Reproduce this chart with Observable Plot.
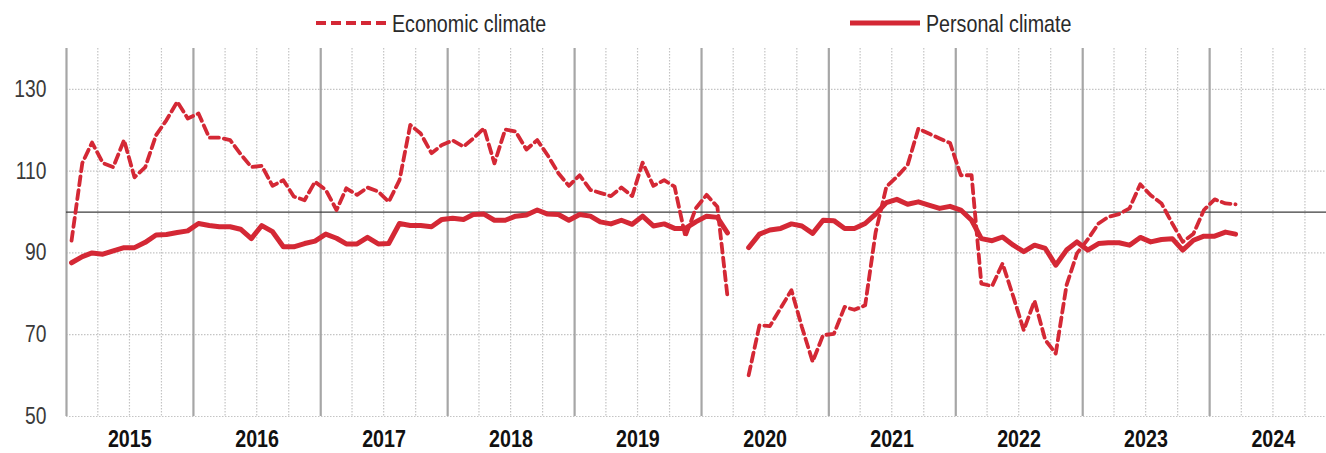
<!DOCTYPE html>
<html>
<head>
<meta charset="utf-8">
<script src="https://cdn.jsdelivr.net/npm/d3@7"></script>
<script src="https://cdn.jsdelivr.net/npm/@observablehq/plot@0.6"></script>
<style>
  html, body { margin: 0; padding: 0; background: #fff; }
  #wrap { width: 1326px; height: 453px; overflow: hidden; }
</style>
</head>
<body>
<div id="wrap">
  <div id="legend" style="height:40px;width:1326px;"></div>
  <div id="chart"></div>
</div>
<script>
// ---- data (monthly, starting January 2015; null = no survey) ----
const startYear = 2015;
const yearLabels = ["2015","2016","2017","2018","2019","2020","2021","2022","2023","2024"];
const seriesNames = ["Economic climate", "Personal climate"];
const yTicks = [50, 70, 90, 110, 130];
const referenceLevel = [100];

const economic = [
  93, 112, 117, 112, 111, 117.6, 108.5, 111, 118.8, 122.5, 127, 122.9,
  124.1, 118.2, 118.2, 117.6, 114.2, 111, 111.3, 106.4, 107.8, 103.8, 102.9, 107.4,
  105.4, 100.5, 105.8, 104.2, 106, 105, 102.5, 107.8, 121.3, 119.2, 114.4, 116.4,
  117.5, 116, 118, 120.5, 111.9, 120.2, 119.7, 115.3, 117.6, 113.9, 109.5, 106.4,
  109, 105.4, 104.7, 103.9, 106, 103.9, 112.1, 106.4, 107.8, 106.2, 94, 100.9,
  104.2, 101.3, 79.4, null, 60.1, 72.3, 72.1, 76.5, 80.9, 71.9, 63.4, 69.9,
  70.2, 76.8, 76.1, 77.2, 95, 106.2, 108.6, 111.5, 120.4, 119.2, 118, 116.9,
  109, 109, 82.5, 81.9, 87.4, 79.3, 71.1, 78.3, 68.7, 65.4, 82.1, 89.9,
  93.3, 97.2, 98.8, 99.5, 100.9, 106.8, 104.1, 102.1, 97.2, 92.7, 94.7, 100.5,
  103.1, 102.1, 101.9
];
const personal = [
  87.6, 89.1, 90, 89.7, 90.5, 91.3, 91.3, 92.6, 94.4, 94.5, 95, 95.4,
  97.2, 96.7, 96.4, 96.4, 95.8, 93.5, 96.7, 95.2, 91.5, 91.5, 92.3, 92.9,
  94.6, 93.6, 92.2, 92.2, 93.8, 92.2, 92.3, 97.2, 96.7, 96.7, 96.4, 98.2,
  98.5, 98.2, 99.4, 99.5, 98, 98, 99, 99.3, 100.5, 99.5, 99.4, 98,
  99.4, 99, 97.6, 97.1, 98, 97, 99, 96.6, 97.1, 96, 96, 97.6,
  99, 98.7, 94.9, null, 91.3, 94.6, 95.6, 96, 97.1, 96.6, 94.8, 98,
  97.9, 96, 96, 97.2, 99.5, 102.3, 103.1, 101.9, 102.5, 101.7, 100.9, 101.4,
  100.5, 98, 93.5, 93, 93.9, 91.9, 90.3, 91.9, 91.1, 87, 90.7, 92.7,
  90.7, 92.3, 92.5, 92.5, 91.9, 93.8, 92.7, 93.3, 93.5, 90.7, 93.1, 94.1,
  94.1, 95.1, 94.6
];

// ---- build table ----
const RED = "#d42835";
const FONT = '"Liberation Sans", Arial, sans-serif';
const NARROW = 0.82; // emulate a narrow face
const monthDate = i => new Date(Date.UTC(startYear + Math.floor(i / 12), i % 12, 15, 12));
const rows = economic.map((v, i) => ({date: monthDate(i), economic: v, personal: personal[i]}));

const x0 = new Date(Date.UTC(startYear, 0, 1));
const x1 = new Date(Date.UTC(+yearLabels[yearLabels.length - 1], 11, 2));
const yearStarts = yearLabels.map(y => new Date(Date.UTC(+y, 0, 1)));
const quarterLines = [];
yearLabels.forEach(y => [3, 6, 9].forEach(m => quarterLines.push(new Date(Date.UTC(+y, m, 1)))));
const yearMids = yearLabels.map(y => new Date(Date.UTC(+y, 6, 2)));

// ---- legend ----
const lg = d3.select("#legend").append("svg").attr("width", 1326).attr("height", 40);
const legendItems = [
  {name: seriesNames[0], x: 316, dash: "10,5", w: 4},
  {name: seriesNames[1], x: 850, dash: null, w: 5}
];
legendItems.forEach(d => {
  lg.append("line").attr("x1", d.x).attr("x2", d.x + 70).attr("y1", 23).attr("y2", 23)
    .attr("stroke", RED).attr("stroke-width", d.w).attr("stroke-dasharray", d.dash);
  lg.append("text").attr("transform", `translate(${d.x + 76},32) scale(${NARROW},1)`)
    .attr("fill", "#2a2a2a")
    .style("font-family", FONT).style("font-size", "24px").text(d.name);
});

// ---- chart ----
const chart = Plot.plot({
  width: 1326,
  height: 413,
  marginLeft: 66,
  marginRight: 0,
  marginTop: 8,
  marginBottom: 37,
  style: {fontFamily: FONT, background: "#fff"},
  x: {type: "utc", domain: [x0, x1]},
  y: {domain: [50, 140]},
  marks: [
    Plot.ruleY(yTicks, {stroke: "#c4c4c4", strokeDasharray: "1.5,1.5", strokeWidth: 1.2}),
    Plot.ruleX(quarterLines, {stroke: "#c4c4c4", strokeDasharray: "1.5,1.5", strokeWidth: 1.2}),
    Plot.ruleX(yearStarts, {stroke: "#a6a6a6", strokeWidth: 2.2}),
    Plot.ruleY(referenceLevel, {stroke: "#3c3c3c", strokeWidth: 1.3}),
    Plot.axisY(yTicks, {tickSize: 0, tickPadding: 20, fontSize: 23.5, fill: "#3a3a3a", label: null}),
    Plot.axisX(yearMids, {tickSize: 0, tickPadding: 13, fontSize: 24, fontWeight: "bold", fill: "#111",
      tickFormat: d => String(d.getUTCFullYear()), label: null}),
    Plot.line(rows, {x: "date", y: "economic", stroke: RED, strokeWidth: 3.8, strokeDasharray: "9,5", strokeLinejoin: "round"}),
    Plot.line(rows, {x: "date", y: "personal", stroke: RED, strokeWidth: 5, strokeLinejoin: "round", strokeLinecap: "round"})
  ]
});
// narrow the axis labels horizontally around their anchor
d3.select(chart).selectAll("text").each(function() {
  const t = d3.select(this);
  const tr = t.attr("transform");
  if (tr) {
    t.attr("transform", tr + ` scale(${NARROW},1)`);
  } else {
    const x = +(t.attr("x") || 0), y = +(t.attr("y") || 0);
    t.attr("x", null).attr("y", null).attr("transform", `translate(${x},${y}) scale(${NARROW},1)`);
  }
});
document.getElementById("chart").appendChild(chart);
</script>
</body>
</html>
